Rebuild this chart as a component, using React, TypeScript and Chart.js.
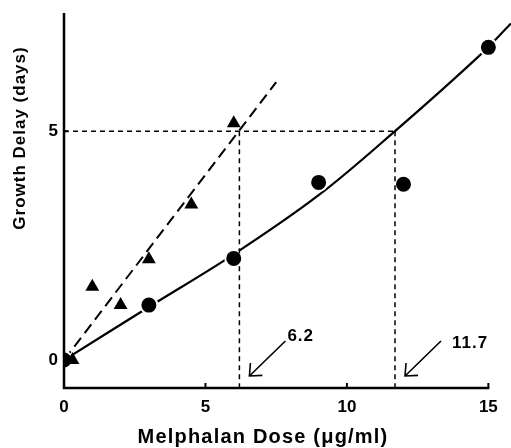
import React, { useEffect, useRef } from "react";
import { Chart, registerables } from "chart.js";

Chart.register(...registerables);

// ---- Data ----
const circleX = [0, 3, 6, 9, 12, 15];
const circleY = [0, 1.2, 2.22, 3.88, 3.84, 6.83];

const triangleX = [0.3, 1, 2, 3, 4.5, 6];
const triangleY = [0, 1.6, 1.2, 2.2, 3.4, 5.17];

// solid fitted curve (circles)
const curveX = [0, 3, 6, 9, 11.7, 14.6, 15.8];
const curveY = [0, 1.16, 2.31, 3.6, 5, 6.6, 7.35];

// dashed fitted line (triangles)
const lineX = [0, 7.5];
const lineY = [0, 6.07];

const targetDelay = 5;
const crossDoses = [6.2, 11.7];
const crossLabels = ["6.2", "11.7"];

const xTickValues = [0, 5, 10, 15];
const yTickValues = [0, 5];
const xMin = 0;
const xMax = 15.8;
const yMin = -0.61;
const yMax = 7.58;

const xTitle = "Melphalan Dose (\u03bcg/ml)";
const yTitle = "Growth Delay (days)";

const FONT = "'Liberation Sans', Arial, Helvetica, sans-serif";

const toPts = (xs: number[], ys: number[]) => xs.map((x, i) => ({ x, y: ys[i] }));

const decorPlugin = {
  id: "decor",
  afterDraw(chart: any) {
    const ctx = chart.ctx as CanvasRenderingContext2D;
    const xs = chart.scales.x;
    const ys = chart.scales.y;
    const ca = chart.chartArea;
    ctx.save();
    ctx.strokeStyle = "#000";
    ctx.fillStyle = "#000";
    ctx.lineWidth = 2.5;
    ctx.lineCap = "butt";
    // axes
    ctx.beginPath();
    ctx.moveTo(ca.left, ca.top);
    ctx.lineTo(ca.left, ca.bottom);
    ctx.lineTo(xs.getPixelForValue(15) + 1, ca.bottom);
    ctx.stroke();
    // ticks
    ctx.lineWidth = 2;
    ctx.beginPath();
    xTickValues.forEach((v) => {
      if (v === 0) return;
      const px = xs.getPixelForValue(v);
      ctx.moveTo(px, ca.bottom);
      ctx.lineTo(px, ca.bottom - 5);
    });
    yTickValues.forEach((v) => {
      const py = ys.getPixelForValue(v);
      ctx.moveTo(ca.left, py);
      ctx.lineTo(ca.left + 4, py);
    });
    ctx.stroke();

    // titles
    ctx.textAlign = "center";
    ctx.textBaseline = "middle";
    (ctx as any).letterSpacing = "1.2px";
    ctx.font = `bold 20px ${FONT}`;
    ctx.fillText(xTitle, 263, 437);
    ctx.save();
    ctx.translate(20, 138);
    ctx.rotate(-Math.PI / 2);
    (ctx as any).letterSpacing = "1px";
    ctx.font = `bold 17px ${FONT}`;
    ctx.fillText(yTitle, 0, 0);
    ctx.restore();

    // annotations with arrows
    const textDy = [-52, -45];
    const textDx = [48, 57];
    crossDoses.forEach((d, i) => {
      const px = xs.getPixelForValue(d);
      const tipX = px + 10;
      const tipY = ca.bottom - 12;
      const tailX = px + 46;
      const tailY = ca.bottom - 47;
      ctx.lineWidth = 1.6;
      ctx.beginPath();
      ctx.moveTo(tailX, tailY);
      ctx.lineTo(tipX, tipY);
      const ang = Math.atan2(tailY - tipY, tailX - tipX);
      const L = 13;
      const spread = 0.72;
      ctx.moveTo(tipX + L * Math.cos(ang - spread), tipY + L * Math.sin(ang - spread));
      ctx.lineTo(tipX, tipY);
      ctx.lineTo(tipX + L * Math.cos(ang + spread), tipY + L * Math.sin(ang + spread));
      ctx.stroke();
      (ctx as any).letterSpacing = "1px";
      ctx.font = `bold 17px ${FONT}`;
      ctx.textAlign = "left";
      ctx.fillText(crossLabels[i], px + textDx[i], ca.bottom + textDy[i]);
    });
    ctx.restore();
  },
};

export default function App() {
  const ref = useRef<HTMLCanvasElement | null>(null);
  useEffect(() => {
    if (!ref.current) return;
    const refDash = [5, 4];
    const chart = new Chart(ref.current, {
      type: "scatter",
      data: {
        datasets: [
          {
            data: toPts(circleX, circleY),
            pointStyle: "circle",
            pointRadius: 8.5,
            pointBackgroundColor: "#000",
            pointBorderColor: "#fff",
            pointBorderWidth: 2,
            showLine: false,
            order: 1,
          },
          {
            data: toPts(triangleX, triangleY),
            pointStyle: "triangle",
            pointRadius: 8,
            pointBackgroundColor: "#000",
            pointBorderColor: "#000",
            pointBorderWidth: 0,
            showLine: false,
            order: 0,
          },
          {
            data: toPts(curveX, curveY),
            showLine: true,
            borderColor: "#000",
            borderWidth: 2.2,
            pointRadius: 0,
            tension: 0.35,
            clip: false as any,
            order: 2,
          },
          {
            data: toPts(lineX, lineY),
            showLine: true,
            borderColor: "#000",
            borderWidth: 2,
            borderDash: [11, 6],
            pointRadius: 0,
            order: 2,
          },
          {
            data: [
              { x: 0, y: targetDelay },
              { x: crossDoses[1], y: targetDelay },
            ],
            showLine: true,
            borderColor: "#000",
            borderWidth: 1.5,
            borderDash: refDash,
            pointRadius: 0,
            order: 0,
          },
          {
            data: [
              { x: crossDoses[0], y: targetDelay },
              { x: crossDoses[0], y: yMin },
            ],
            showLine: true,
            borderColor: "#000",
            borderWidth: 1.5,
            borderDash: refDash,
            pointRadius: 0,
            order: 0,
          },
          {
            data: [
              { x: crossDoses[1], y: targetDelay },
              { x: crossDoses[1], y: yMin },
            ],
            showLine: true,
            borderColor: "#000",
            borderWidth: 1.5,
            borderDash: refDash,
            pointRadius: 0,
            order: 0,
          },
        ],
      },
      options: {
        animation: false,
        responsive: false,
        layout: { autoPadding: false, padding: { top: 13, left: 0, right: 0, bottom: 0 } },
        plugins: { legend: { display: false }, tooltip: { enabled: false } },
        scales: {
          x: {
            type: "linear",
            min: xMin,
            max: xMax,
            grid: { display: false, drawTicks: false },
            border: { display: false },
            afterBuildTicks: (s: any) => {
              s.ticks = xTickValues.map((v) => ({ value: v }));
            },
            afterFit: (s: any) => {
              s.height = 60;
              s.paddingLeft = 0;
              s.paddingRight = 0;
            },
            ticks: {
              color: "#000",
              padding: 9,
              maxRotation: 0,
              font: { family: FONT, size: 17, weight: "bold" },
              callback: (v: any) => String(v),
            },
          },
          y: {
            type: "linear",
            min: yMin,
            max: yMax,
            grid: { display: false, drawTicks: false },
            border: { display: false },
            afterBuildTicks: (s: any) => {
              s.ticks = yTickValues.map((v) => ({ value: v }));
            },
            afterFit: (s: any) => {
              s.width = 64;
              s.paddingTop = 0;
              s.paddingBottom = 0;
            },
            ticks: {
              color: "#000",
              padding: 6,
              font: { family: FONT, size: 17, weight: "bold" },
              callback: (v: any) => String(v),
            },
          },
        },
      } as any,
      plugins: [decorPlugin],
    });
    return () => chart.destroy();
  }, []);
  return (
    <div style={{ position: "absolute", left: 0, top: 0, width: 511, height: 448, background: "#fff" }}>
      <canvas ref={ref} width={511} height={448} style={{ display: "block" }} />
    </div>
  );
}
